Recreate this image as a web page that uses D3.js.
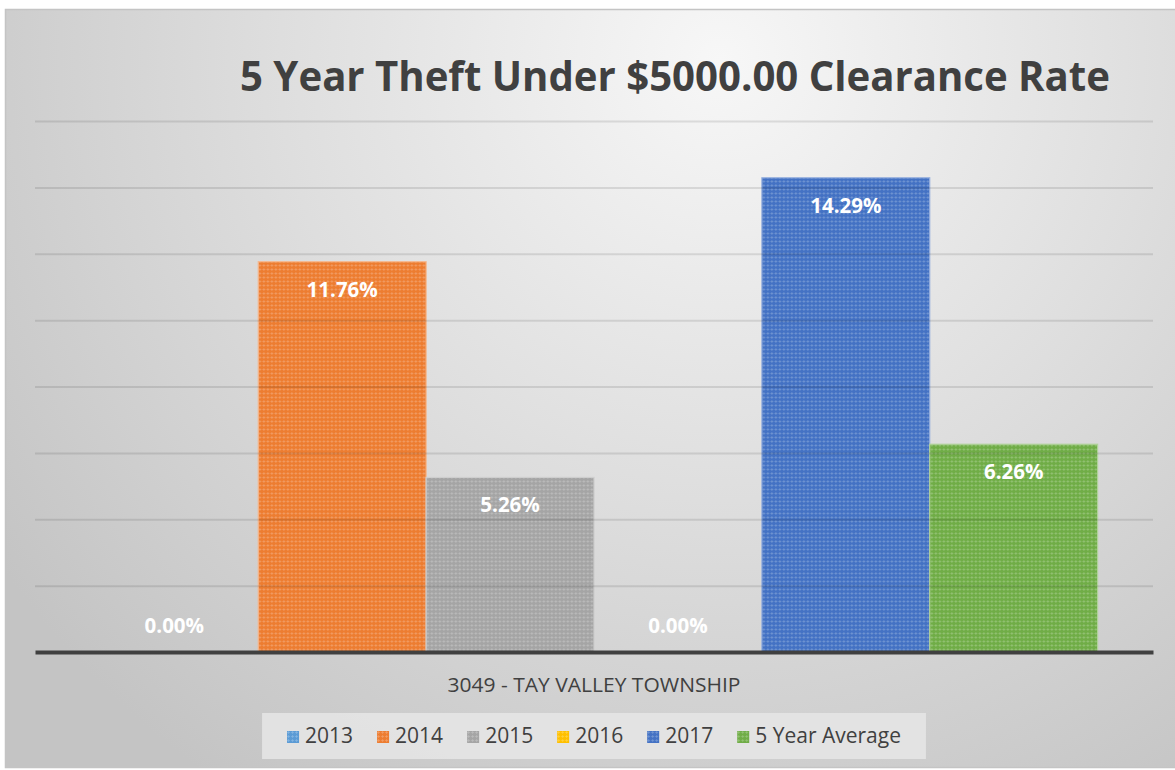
<!DOCTYPE html>
<html>
<head>
<meta charset="utf-8">
<script src="https://cdn.jsdelivr.net/npm/d3@7"></script>
<style>
  html, body { margin: 0; padding: 0; background: #ffffff; }
  svg { display: block; }
</style>
</head>
<body>
<svg id="chart" width="1175" height="770"></svg>
<script>
// ---- data ----
const title = "5 Year Theft Under $5000.00 Clearance Rate";
const categories = ["3049 - TAY VALLEY TOWNSHIP"];
const seriesNames = ["2013", "2014", "2015", "2016", "2017", "5 Year Average"];
const seriesValues = [0.00, 11.76, 5.26, 0.00, 14.29, 6.26];
const seriesColors = ["#5B9BD5", "#ED7D31", "#A5A5A5", "#FFC000", "#4472C4", "#70AD47"];
const yTickValues = [0, 2, 4, 6, 8, 10, 12, 14, 16];

// ---- layout ----
const W = 1175, H = 770;
const plot = { left: 35, right: 1153, top: 121, bottom: 652 };
const svg = d3.select("#chart");
const defs = svg.append("defs");

// background gradient
const bg = defs.append("radialGradient").attr("id", "bgGrad")
  .attr("gradientUnits", "userSpaceOnUse")
  .attr("cx", 720).attr("cy", 60).attr("r", 880);
bg.append("stop").attr("offset", "0").attr("stop-color", "#f7f7f7");
bg.append("stop").attr("offset", "0.5").attr("stop-color", "#dedede");
bg.append("stop").attr("offset", "1").attr("stop-color", "#c4c4c4");

svg.append("rect").attr("x", 5.5).attr("y", 9.5).attr("width", W).attr("height", H - 12)
  .attr("fill", "url(#bgGrad)").attr("stroke", "#c4c4c4").attr("stroke-width", 1.5);

// bar patterns (small-grid texture)
seriesColors.forEach((c, i) => {
  const p = defs.append("pattern").attr("id", "pat" + i)
    .attr("patternUnits", "userSpaceOnUse").attr("width", 4).attr("height", 4);
  p.append("rect").attr("width", 4).attr("height", 4).attr("fill", c);
  const light = d3.interpolateRgb(c, "#ffffff")(0.3);
  p.append("rect").attr("x", 0).attr("y", 1).attr("width", 3).attr("height", 1).attr("fill", light).attr("opacity", 0.6);
  p.append("rect").attr("x", 1).attr("y", 0).attr("width", 1).attr("height", 3).attr("fill", light).attr("opacity", 0.6);
});

// scales
const y = d3.scaleLinear().domain([0, 16]).range([plot.bottom, plot.top]);
const x0 = d3.scaleBand().domain(categories).range([plot.left, plot.right])
  .paddingInner(0).paddingOuter(0.055);
const x1 = d3.scaleBand().domain(seriesNames).range([0, x0.bandwidth()]).padding(0);

const rows = seriesNames.map((s, i) => ({ series: s, value: seriesValues[i], color: seriesColors[i], idx: i }));

// title
svg.append("text").attr("x", 675).attr("y", 91)
  .attr("text-anchor", "middle")
  .attr("font-family", "'Open Sans', sans-serif").attr("font-weight", 700)
  .attr("font-size", 42).attr("fill", "#404040")
  .attr("textLength", 870).attr("lengthAdjust", "spacingAndGlyphs")
  .text(title);

// bars
const g = svg.append("g");
categories.forEach(cat => {
  const cg = g.append("g").attr("transform", `translate(${x0(cat)},0)`);
  cg.selectAll("rect.bar").data(rows).join("rect").attr("class", "bar")
    .attr("x", d => x1(d.series))
    .attr("y", d => y(d.value))
    .attr("width", x1.bandwidth())
    .attr("height", d => y(0) - y(d.value))
    .attr("fill", d => `url(#pat${d.idx})`)
    .attr("stroke", d => d3.interpolateRgb(d.color, "#ffffff")(0.45))
    .attr("stroke-width", d => d.value > 0 ? 1.2 : 0);
});

// gridlines (semi-transparent, drawn over bars)
const yAxis = d3.axisLeft(y).tickValues(yTickValues.filter(v => v > 0))
  .tickSize(-(plot.right - plot.left)).tickFormat("");
const ga = svg.append("g").attr("transform", `translate(${plot.left},0)`).call(yAxis);
ga.select(".domain").remove();
ga.selectAll(".tick line").attr("stroke", "#000").attr("stroke-opacity", 0.1).attr("stroke-width", 2);

// baseline axis
const xAxis = d3.axisBottom(x0).tickSize(0).tickFormat("");
const gx = svg.append("g").attr("transform", `translate(0,${y(0)})`).call(xAxis);
gx.select(".domain").attr("stroke", "#404040").attr("stroke-width", 4);

// category label
categories.forEach(cat => {
  svg.append("text").attr("x", x0(cat) + x0.bandwidth() / 2).attr("y", 692)
    .attr("text-anchor", "middle")
    .attr("font-family", "'Open Sans', sans-serif").attr("font-size", 20.5)
    .attr("fill", "#404040")
    .attr("textLength", 293).attr("lengthAdjust", "spacingAndGlyphs")
    .text(cat);
});

// data labels
categories.forEach(cat => {
  svg.append("g").selectAll("text").data(rows).join("text")
    .attr("x", d => x0(cat) + x1(d.series) + x1.bandwidth() / 2)
    .attr("y", d => d.value > 0 ? y(d.value) + 35 : y(0) - 19)
    .attr("text-anchor", "middle")
    .attr("font-family", "'Open Sans', sans-serif").attr("font-weight", 700)
    .attr("font-size", 20.5).attr("fill", "#ffffff")
    .text(d => d3.format(".2f")(d.value) + "%");
});

// legend
const lg = svg.append("g");
const lbox = lg.append("rect").attr("fill", "#e6e6e6").attr("fill-opacity", 0.85);
const items = lg.selectAll("g.item").data(rows).join("g").attr("class", "item");
items.append("rect").attr("width", 12).attr("height", 12).attr("y", -12)
  .attr("fill", d => `url(#pat${d.idx})`);
items.append("text").attr("x", 18).attr("y", 0)
  .attr("font-family", "'Open Sans', sans-serif").attr("font-size", 21)
  .attr("fill", "#404040").text(d => d.series);
let cx = 0;
const offs = [];
items.each(function () {
  const w = d3.select(this).select("text").node().getComputedTextLength();
  offs.push(cx);
  cx += 18 + w + 24;
});
const totalW = cx - 24;
const legendCenter = (plot.left + plot.right) / 2;
const lx = legendCenter - totalW / 2;
items.attr("transform", (d, i) => `translate(${lx + offs[i]},743)`);
lbox.attr("x", lx - 25).attr("y", 713).attr("width", totalW + 50).attr("height", 46);
</script>
</body>
</html>
